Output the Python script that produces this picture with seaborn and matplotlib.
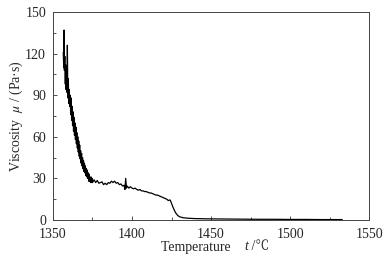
import numpy as np
import pandas as pd
import matplotlib
matplotlib.use("Agg")
import matplotlib.pyplot as plt
import seaborn as sns
from matplotlib.ticker import MultipleLocator
from matplotlib.offsetbox import TextArea, HPacker, AnchoredOffsetbox

# temperature (°C) and viscosity (Pa·s)
temp_noisy = [1356.5, 1356.8, 1357.0, 1357.2, 1357.5, 1357.8, 1358.0, 1358.3, 1358.6, 1358.9,
              1359.1, 1359.4, 1359.7, 1360.0, 1360.3, 1360.6, 1360.9, 1361.2, 1361.5, 1361.8,
              1362.1, 1362.4, 1362.7, 1363.0, 1363.3, 1363.6, 1363.9, 1364.2, 1364.5, 1364.8,
              1365.1, 1365.4, 1365.7, 1366.0, 1366.3, 1366.6, 1366.9, 1367.2, 1367.5, 1367.8,
              1368.1, 1368.4, 1368.7, 1369.0, 1369.3, 1369.6, 1369.9, 1370.2, 1370.5, 1370.8,
              1371.1, 1371.4, 1371.7, 1372.0, 1372.3, 1372.6, 1372.9, 1373.2, 1373.5, 1373.8,
              1374.1, 1374.4, 1374.7, 1375.0]
visc_noisy = [121, 110, 137, 108, 118, 98, 112, 94, 108, 92,
              126, 88, 102, 84, 94, 82, 90, 76, 88, 72,
              82, 68, 78, 64, 74, 61, 70, 58, 67, 55,
              63, 52, 60, 49, 57, 46, 54, 44, 50, 41,
              48, 39, 45, 37, 43, 35, 41, 34, 39, 32,
              37, 31, 36, 30, 34, 28, 33, 28, 31, 27,
              31, 27, 30, 27]

temp_mid = [1376, 1377, 1378, 1379, 1380, 1381, 1382, 1383, 1384, 1385, 1386, 1387, 1388, 1389,
            1390, 1391, 1392, 1393, 1394, 1395, 1395.5, 1396, 1396.5, 1397, 1398, 1399, 1400,
            1401, 1402, 1403, 1404, 1405, 1406, 1407, 1408, 1409, 1410, 1411, 1412, 1413, 1414,
            1415, 1416, 1417, 1418, 1419, 1420, 1421, 1422, 1423, 1424, 1424.5]
visc_mid = [29, 27, 28.5, 26.5, 27, 27.5, 25.5, 26.5, 25.5, 27, 26.5, 28, 27, 28,
            26.5, 27, 25.5, 26, 24.5, 25, 22, 30, 23, 24.5, 23, 24, 23,
            22.5, 23, 22, 21.5, 22, 21, 21, 20.5, 20.5, 20, 19.5, 19.5, 19, 18.5,
            18, 18, 17.5, 17, 16.5, 16, 15.5, 15, 14, 14.5, 13.5]

temp_tail = [1425, 1426, 1427, 1428, 1429, 1430, 1432, 1435, 1440, 1450, 1460, 1470, 1480,
             1490, 1500, 1510, 1520, 1533]
visc_tail = [12, 9, 6.5, 4.5, 3.2, 2.4, 1.7, 1.3, 1.0, 0.8, 0.7, 0.6, 0.5,
             0.5, 0.4, 0.4, 0.3, 0.3]

x_ticks = [1350, 1400, 1450, 1500, 1550]
y_ticks = [0, 30, 60, 90, 120, 150]

df = pd.DataFrame({
    "t": temp_noisy + temp_mid + temp_tail,
    "mu": visc_noisy + visc_mid + visc_tail,
})

sns.set_style("ticks")
plt.rcParams["font.family"] = ["Liberation Serif", "Noto Serif CJK SC", "DejaVu Sans"]
plt.rcParams["mathtext.fontset"] = "stix"

fig = plt.figure(figsize=(3.91, 2.59), dpi=100)
ax = fig.add_axes([0.1355, 0.1506, 0.8085, 0.8031])

sns.lineplot(data=df, x="t", y="mu", ax=ax, color="black", linewidth=0.9,
             sort=False, estimator=None)

ax.set_xlim(1350, 1550)
ax.set_ylim(0, 150)
ax.set_xticks(x_ticks)
ax.set_yticks(y_ticks)
ax.xaxis.set_minor_locator(MultipleLocator(25))
ax.yaxis.set_minor_locator(MultipleLocator(15))
ax.tick_params(which="both", direction="in", top=False, right=False,
               length=3, width=0.6, labelsize=10, color="#333333")
ax.tick_params(axis="x", pad=6)
ax.tick_params(axis="y", pad=5)
ax.tick_params(which="minor", length=2)
for s in ax.spines.values():
    s.set_linewidth(0.7)
    s.set_color("#444444")

ax.set_xlabel("")
ax.set_ylabel("Viscosity  $\\mu$ / (Pa\u00b7s)", fontsize=10, labelpad=0)

# x label with italic t and the ℃ sign, built from plain text pieces
fam = ["Liberation Serif", "Noto Serif CJK SC", "DejaVu Sans"]
parts = [
    TextArea("Temperature    ", textprops=dict(fontsize=10, family=fam)),
    TextArea("t", textprops=dict(fontsize=10, family=fam, style="italic")),
    TextArea(" /\u2103", textprops=dict(fontsize=10, family=fam)),
]
box = HPacker(children=parts, align="baseline", pad=0, sep=0)
anch = AnchoredOffsetbox(loc="center", child=box, pad=0, frameon=False,
                         bbox_to_anchor=(215 / 391, 1 - 247 / 259),
                         bbox_transform=fig.transFigure, borderpad=0)
fig.add_artist(anch)

fig.savefig("out.png", dpi=100)
